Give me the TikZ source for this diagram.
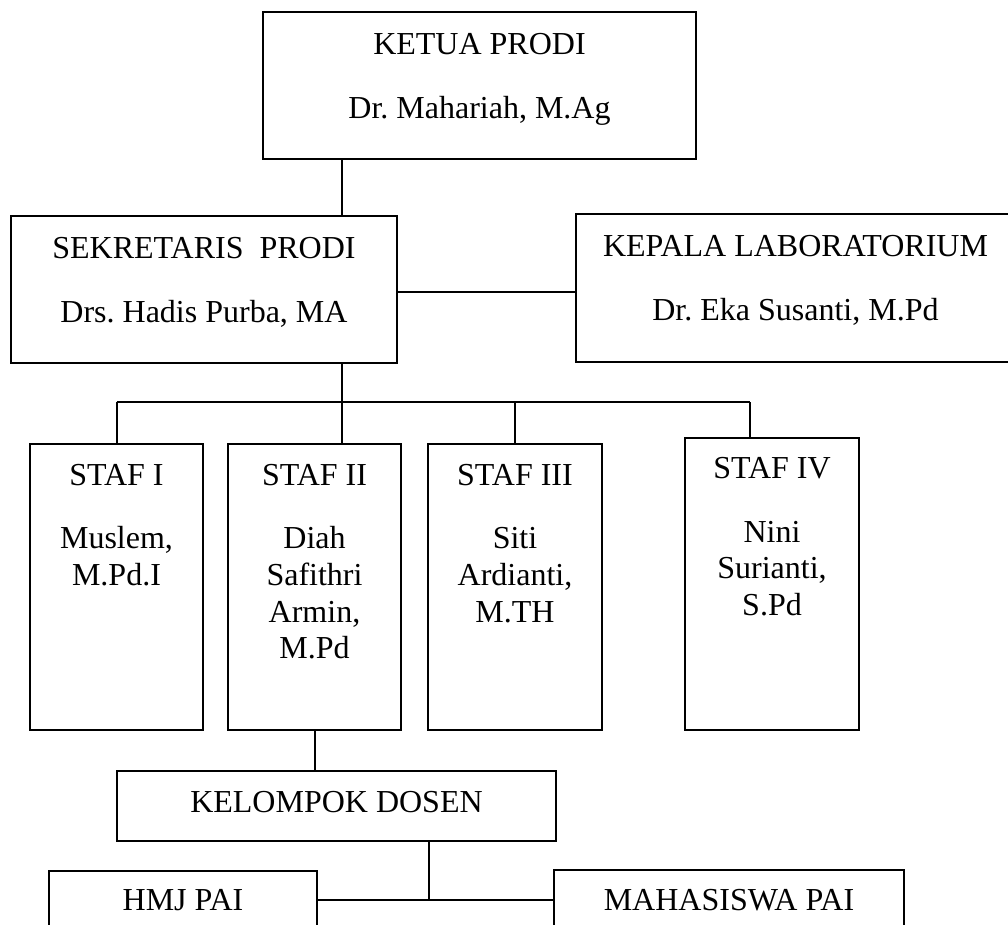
\documentclass[tikz,border=0pt]{standalone}
\usepackage{fontspec}
\setmainfont{Liberation Serif}
\usetikzlibrary{calc}
\frenchspacing
\begin{document}
\begin{tikzpicture}[x=1pt,y=-1pt,
  bx/.style 2 args={draw, line width=2pt, minimum width=#1pt, minimum height=#2pt,
    anchor=north west, inner sep=0pt, outer sep=0pt},
  txt/.style={font=\fontsize{32}{37}\selectfont, inner sep=0pt, anchor=base},
  conn/.style={line width=2pt}]
\useasboundingbox (0,0) rectangle (1008,924);
\clip (0,0) rectangle (1008,924);

% boxes
\node[bx={433}{147}] (ketua) at (263,12) {};
\node[bx={386}{147}] (sek) at (11,216) {};
\node[bx={439}{148}] (kep) at (576,214) {};
\node[bx={173}{286}] (staf1) at (30,444) {};
\node[bx={173}{286}] (staf2) at (228,444) {};
\node[bx={174}{286}] (staf3) at (428,444) {};
\node[bx={174}{292}] (staf4) at (685,438) {};
\node[bx={439}{70}] (kel) at (117,771) {};
\node[bx={268}{90}] (hmj) at (49,871) {};
\node[bx={350}{90}] (mhs) at (554,870) {};

% texts
\node[txt] (t-ketua1) at ($(ketua.north)+(0,42)$) {KETUA PRODI};
\node[txt] (t-ketua2) at ($(ketua.north)+(0,106)$) {Dr. Mahariah, M.Ag};
\node[txt] (t-sek1) at ($(sek.north)+(0,42)$) {SEKRETARIS~ PRODI};
\node[txt] (t-sek2) at ($(sek.north)+(0,106)$) {Drs. Hadis Purba, MA};
\node[txt] (t-kep1) at ($(kep.north)+(0,42)$) {KEPALA LABORATORIUM};
\node[txt] (t-kep2) at ($(kep.north)+(0,106)$) {Dr. Eka Susanti, M.Pd};

\node[txt] (t-s1) at ($(staf1.north)+(0,41)$) {STAF I};
\node[txt] (t-s1a) at ($(staf1.north)+(0,104)$) {Muslem,};
\node[txt] (t-s1b) at ($(staf1.north)+(0,141)$) {M.Pd.I};

\node[txt] (t-s2) at ($(staf2.north)+(0,41)$) {STAF II};
\node[txt] (t-s2a) at ($(staf2.north)+(0,104)$) {Diah};
\node[txt] (t-s2b) at ($(staf2.north)+(0,141)$) {Safithri};
\node[txt] (t-s2c) at ($(staf2.north)+(0,178)$) {Armin,};
\node[txt] (t-s2d) at ($(staf2.north)+(0,214)$) {M.Pd};

\node[txt] (t-s3) at ($(staf3.north)+(0,41)$) {STAF III};
\node[txt] (t-s3a) at ($(staf3.north)+(0,104)$) {Siti};
\node[txt] (t-s3b) at ($(staf3.north)+(0,141)$) {Ardianti,};
\node[txt] (t-s3c) at ($(staf3.north)+(0,178)$) {M.TH};

\node[txt] (t-s4) at ($(staf4.north)+(0,40)$) {STAF IV};
\node[txt] (t-s4a) at ($(staf4.north)+(0,104)$) {Nini};
\node[txt] (t-s4b) at ($(staf4.north)+(0,140)$) {Surianti,};
\node[txt] (t-s4c) at ($(staf4.north)+(0,177)$) {S.Pd};

\node[txt] (t-kel) at ($(kel.north)+(0,41)$) {KELOMPOK DOSEN};
\node[txt] (t-hmj) at ($(hmj.north)+(0,39)$) {HMJ PAI};
\node[txt] (t-mhs) at ($(mhs.north)+(0,40)$) {MAHASISWA PAI};

% helper coordinates
\coordinate (spine) at (342,0);
\coordinate (mid) at (0,292);
\coordinate (bus) at (0,402);
\coordinate (s4) at (750,0);
\coordinate (kx) at (429,0);
\coordinate (low) at (0,900);

% connectors
\draw[conn] (spine |- ketua.south) -- (spine |- sek.north);
\draw[conn] (mid -| sek.east) -- (mid -| kep.west);
\draw[conn] (spine |- sek.south) -- (spine |- staf2.north);
\draw[conn] (staf1.north |- bus) -- (s4 |- bus);
\draw[conn] (staf1.north |- bus) -- (staf1.north);
\draw[conn] (staf3.north |- bus) -- (staf3.north);
\draw[conn] (s4 |- bus) -- (s4 |- staf4.north);
\draw[conn] (staf2.south) -- (staf2.south |- kel.north);
\draw[conn] (kx |- kel.south) -- (kx |- low);
\draw[conn] (low -| hmj.east) -- (low -| mhs.west);
\end{tikzpicture}
\end{document}
